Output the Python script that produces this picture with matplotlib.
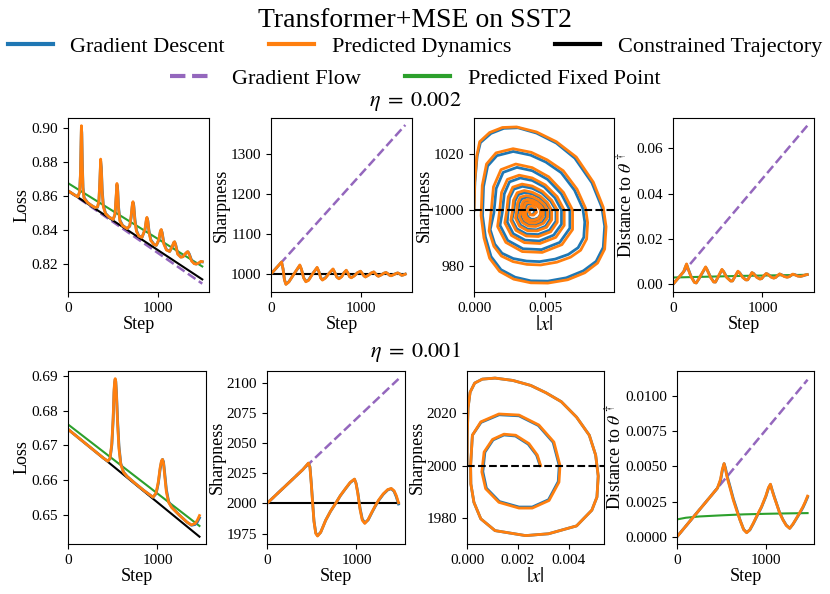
import numpy as np
import matplotlib
matplotlib.use('Agg')
import matplotlib.pyplot as plt
from matplotlib.lines import Line2D
from matplotlib.ticker import MultipleLocator

plt.rcParams['font.family'] = ['Liberation Serif', 'DejaVu Serif']
plt.rcParams['mathtext.fontset'] = 'stix'

# ---------------- eta = 0.002 ----------------
steps_loss1 = [0, 60, 110, 130, 140, 146, 150, 154, 160, 168, 180, 220, 260, 300, 330, 345, 355, 365, 373, 382,
               395, 420, 460, 505, 525, 538, 547, 555, 565, 580, 610, 660, 690, 705, 718, 726, 735, 748, 765, 790,
               826, 860, 875, 882, 892, 905, 925, 960, 987, 1015, 1032, 1042, 1052, 1070, 1100, 1136, 1165, 1182, 1191, 1203,
               1225, 1260, 1284, 1312, 1332, 1340, 1355, 1380, 1410, 1433, 1465, 1485, 1500]
loss1_pred = [0.8630, 0.8610, 0.8594, 0.8625, 0.8740, 0.8920, 0.9012, 0.8960, 0.8780, 0.8635,
              0.8585, 0.8560, 0.8545, 0.8532, 0.8535, 0.8570, 0.8680, 0.8816, 0.8750, 0.8620,
              0.8535, 0.8495, 0.8475, 0.8462, 0.8495, 0.8600, 0.8673, 0.8630, 0.8520, 0.8452,
              0.8425, 0.8408, 0.8425, 0.8480, 0.8548, 0.8566, 0.8535, 0.8450, 0.8392, 0.8365,
              0.8356, 0.8405, 0.8462, 0.8474, 0.8450, 0.8385, 0.8338, 0.8315, 0.8310, 0.8345,
              0.8395, 0.8403, 0.8380, 0.8318, 0.8282, 0.8274, 0.8305, 0.8328, 0.8331, 0.8310,
              0.8258, 0.8240, 0.8243, 0.8262, 0.8272, 0.8272, 0.8255, 0.8218, 0.8202, 0.8200,
              0.8208, 0.8216, 0.8214]
loss1_gd = [0.8630, 0.8610, 0.8594, 0.8622, 0.8730, 0.8900, 0.9000, 0.8972, 0.8805, 0.8650,
            0.8590, 0.8560, 0.8545, 0.8532, 0.8533, 0.8565, 0.8665, 0.8805, 0.8765, 0.8640,
            0.8545, 0.8497, 0.8475, 0.8462, 0.8490, 0.8590, 0.8665, 0.8640, 0.8535, 0.8458,
            0.8427, 0.8408, 0.8422, 0.8472, 0.8540, 0.8562, 0.8545, 0.8462, 0.8398, 0.8366,
            0.8356, 0.8400, 0.8455, 0.8470, 0.8455, 0.8395, 0.8343, 0.8316, 0.8310, 0.8340,
            0.8390, 0.8400, 0.8385, 0.8325, 0.8285, 0.8274, 0.8302, 0.8325, 0.8330, 0.8314,
            0.8263, 0.8242, 0.8243, 0.8260, 0.8270, 0.8272, 0.8259, 0.8223, 0.8204, 0.8200,
            0.8206, 0.8214, 0.8213]
loss1_constr = ([0, 1500], [0.8630, 0.8110])
loss1_flow = ([0, 1500], [0.8630, 0.8085])
loss1_fixed = ([0, 1500], [0.8675, 0.8186])

steps_sharp1 = [0, 60, 118, 135, 150, 167, 200, 260, 322, 340, 365, 389, 420, 470, 515, 535, 555, 574, 610, 650,
                693, 712, 735, 759, 790, 815, 841, 860, 878, 896, 930, 965, 1000, 1020, 1038, 1055, 1090, 1120, 1148, 1168,
                1185, 1200, 1235, 1262, 1285, 1305, 1322, 1340, 1370, 1395, 1415, 1435, 1460, 1480, 1500]
sharp1_pred = [1000, 1015, 1030, 1012, 985, 973.8, 980, 1001, 1022.5, 1012,
               990, 980.3, 984, 1002, 1016.5, 1006, 990, 984.5, 990, 1002,
               1012.5, 1004, 992, 987.8, 993, 1003, 1009.3, 1002, 993, 990.3,
               995, 1003, 1007, 1001, 995, 992.3, 997, 1002.5, 1005.2, 1000.5,
               996, 994, 998, 1002, 1003.8, 1000.5, 997, 995.2, 998, 1001,
               1002.7, 1000.5, 996.3, 997.5, 999.5]
sharp1_gd = [1000, 1015, 1029.5, 1012.5, 986, 974.5, 980.5, 1001, 1021, 1011.5,
             990.5, 981.5, 985, 1002, 1015.3, 1005.5, 990.5, 985.5, 991, 1002,
             1011.5, 1003.5, 992.5, 988.7, 993.5, 1003, 1008.5, 1001.5, 993.5, 991,
             995.5, 1002.5, 1006.3, 1000.8, 995.5, 992.8, 997.3, 1002.2, 1004.6, 1000.3,
             996.3, 994.5, 998.2, 1001.8, 1003.4, 1000.4, 997.2, 995.7, 998.3, 1000.9,
             1002.4, 1000.4, 996.6, 997.7, 999.5]
sharp1_constr = ([0, 1500], [1000, 1000])
sharp1_flow = ([0, 1500], [1000, 1373])

# phase portrait (|x|, sharpness)
phase1_pred = [
    (0.0, 1000), (0.00005, 1010), (0.0002, 1019.5), (0.0004, 1024.5), (0.0011, 1027.8), (0.0020, 1029.6),
    (0.0030, 1029.8), (0.0044, 1028), (0.0058, 1024.5), (0.0072, 1019), (0.0084, 1010), (0.0091, 1001),
    (0.0093, 994), (0.0092, 986), (0.0087, 981), (0.0078, 977.5), (0.0066, 975), (0.0052, 973.8),
    (0.0040, 973.9), (0.0028, 975.2), (0.0018, 978), (0.0011, 982.7), (0.0007, 990), (0.0005, 998),
    (0.00058, 1008.8), (0.00088, 1016.5), (0.00155, 1020.5), (0.00275, 1022), (0.00403, 1020.7), (0.00515, 1018),
    (0.00628, 1014.1), (0.00725, 1007.5), (0.00785, 1000.7), (0.0080, 995.5), (0.00793, 989.6), (0.00751, 985.6),
    (0.0068, 983.1), (0.00583, 981.3), (0.0047, 980.3), (0.00373, 980.5), (0.00275, 981.5), (0.00193, 983.5),
    (0.0014, 987), (0.00106, 992.5),
    (0.0012, 999), (0.00137, 1008.3), (0.0019, 1014.5), (0.00294, 1016.5), (0.0041, 1015.2), (0.00526, 1011.9),
    (0.0063, 1006.3), (0.00694, 1000), (0.00694, 993), (0.00619, 987.6), (0.0048, 984.8), (0.0034, 985.1),
    (0.00224, 988.4), (0.00166, 994.1),
    (0.0018, 999.5), (0.00194, 1006.3), (0.00235, 1011), (0.00318, 1012.5), (0.0041, 1011.5), (0.00502, 1009),
    (0.00585, 1004.8), (0.00635, 1000), (0.00635, 994.5), (0.00576, 990.2), (0.00465, 988), (0.00355, 988.3),
    (0.00263, 990.9), (0.00217, 995.4),
    (0.0023, 999.5), (0.00241, 1004.65), (0.00273, 1008.2), (0.00338, 1009.3), (0.0041, 1008.6), (0.00482, 1006.7),
    (0.00547, 1003.5), (0.00586, 1000), (0.00586, 995.6), (0.0054, 992.2), (0.00453, 990.5), (0.00367, 990.7),
    (0.00295, 992.7), (0.00259, 996.3),
    (0.0027, 999.5), (0.00278, 1003.5), (0.00304, 1006.2), (0.00354, 1007), (0.0041, 1006.4), (0.00466, 1005),
    (0.00516, 1002.7), (0.00547, 1000), (0.00547, 996.5), (0.00511, 993.8), (0.00444, 992.5), (0.00376, 992.6),
    (0.0032, 994.2), (0.00292, 997.1),
    (0.0030, 999.5), (0.00307, 1002.6), (0.00326, 1004.6), (0.00366, 1005.2), (0.0041, 1004.8), (0.00454, 1003.7),
    (0.00494, 1002), (0.00518, 1000), (0.00518, 997.3), (0.00489, 995.2), (0.00436, 994.1), (0.00384, 994.2),
    (0.0034, 995.5), (0.00318, 997.7),
    (0.0033, 999.5), (0.00335, 1001.9), (0.00349, 1003.3), (0.00378, 1003.8), (0.0041, 1003.5), (0.00442, 1002.7),
    (0.00471, 1001.4), (0.00488, 1000), (0.00488, 997.8), (0.00468, 996.2), (0.00429, 995.3), (0.00391, 995.4),
    (0.00359, 996.4), (0.00343, 998.2),
    (0.0035, 999.5), (0.00354, 1001.4), (0.00364, 1002.4), (0.00386, 1002.7), (0.0041, 1002.5), (0.00434, 1001.9),
    (0.00456, 1001), (0.00469, 1000), (0.00469, 998.3), (0.00453, 997), (0.00424, 996.4), (0.00396, 996.4),
    (0.00372, 997.2), (0.0036, 998.6),
    (0.0037, 999.5), (0.00385, 1001.2), (0.0041, 1001.5), (0.00432, 1000.6), (0.0044, 999.2), (0.0042, 998.2),
    (0.00395, 998.3), (0.0039, 999.2)]
phase1_gd = [
    (0.0, 1000), (0.00006, 1010), (0.00022, 1019.3), (0.00045, 1024.2), (0.0012, 1027.5), (0.0021, 1029.3),
    (0.0031, 1029.5), (0.0044, 1027.6), (0.0058, 1024), (0.0071, 1018.6), (0.0083, 1009.8), (0.0090, 1001),
    (0.0092, 994.2), (0.0091, 986.6), (0.0086, 981.6), (0.0077, 978.2), (0.0065, 975.7), (0.0052, 974.5),
    (0.0040, 974.6), (0.0029, 975.9), (0.0019, 978.6), (0.0012, 983.3), (0.0008, 990.4), (0.0006, 998),
    (0.00067, 1008.4), (0.00096, 1015.8), (0.00161, 1019.5), (0.00276, 1021), (0.00398, 1019.7), (0.00506, 1017.2),
    (0.00614, 1013.4), (0.00708, 1007.1), (0.00766, 1000.6), (0.0078, 995.7), (0.00773, 990.2), (0.00733, 986.5),
    (0.00665, 984.1), (0.00571, 982.4), (0.00463, 981.5), (0.0037, 981.7), (0.00276, 982.6), (0.00197, 984.5),
    (0.00146, 987.8), (0.00114, 993),
    (0.0014, 999), (0.00156, 1007.7), (0.00205, 1013.5), (0.00302, 1015.3), (0.0041, 1014.1), (0.00518, 1011),
    (0.00615, 1005.8), (0.00675, 1000), (0.00675, 993.5), (0.00604, 988.4), (0.00475, 985.8), (0.00345, 986.1),
    (0.00237, 989.1), (0.00183, 994.5),
    (0.0020, 999.5), (0.00213, 1005.8), (0.0025, 1010.1), (0.00326, 1011.5), (0.0041, 1010.6), (0.00494, 1008.3),
    (0.0057, 1004.4), (0.00616, 1000), (0.00616, 994.9), (0.00561, 991), (0.0046, 988.9), (0.0036, 989.2),
    (0.00276, 991.5), (0.00234, 995.7),
    (0.0024, 999.5), (0.0025, 1004.25), (0.00281, 1007.5), (0.00342, 1008.5), (0.0041, 1007.8), (0.00478, 1006.1),
    (0.00539, 1003.2), (0.00577, 1000), (0.00577, 996), (0.00532, 992.8), (0.00451, 991.2), (0.00369, 991.4),
    (0.00301, 993.3), (0.00267, 996.6),
    (0.0028, 999.5), (0.00288, 1003.2), (0.00311, 1005.5), (0.00358, 1006.3), (0.0041, 1005.8), (0.00462, 1004.5),
    (0.00509, 1002.4), (0.00537, 1000), (0.00537, 996.8), (0.00504, 994.2), (0.00441, 992.9), (0.00379, 993.1),
    (0.00327, 994.6), (0.00301, 997.3),
    (0.0031, 999.5), (0.00316, 1002.3), (0.00334, 1004), (0.0037, 1004.6), (0.0041, 1004.2), (0.0045, 1003.3),
    (0.00486, 1001.7), (0.00508, 1000), (0.00508, 997.5), (0.00482, 995.6), (0.00434, 994.6), (0.00386, 994.7),
    (0.00346, 995.9), (0.00326, 997.9),
    (0.0034, 999.5), (0.00345, 1001.7), (0.00358, 1003), (0.00385, 1003.4), (0.00415, 1003.1), (0.00445, 1002.4),
    (0.00472, 1001.3), (0.00489, 1000), (0.00489, 998.1), (0.00469, 996.6), (0.00433, 995.8), (0.00397, 995.9),
    (0.00367, 996.8), (0.00352, 998.4),
    (0.0036, 999.5), (0.00363, 1001.2), (0.00373, 1002.1), (0.00393, 1002.4), (0.00415, 1002.2), (0.00437, 1001.7),
    (0.00457, 1000.9), (0.00469, 1000), (0.00469, 998.5), (0.00455, 997.3), (0.00428, 996.7), (0.00402, 996.7),
    (0.0038, 997.5), (0.00369, 998.7),
    (0.0038, 999.4), (0.0040, 1000.6), (0.0042, 1000.3), (0.0043, 999.1), (0.0041, 998.4)]

steps_dist1 = [0, 60, 120, 140, 152, 165, 200, 240, 260, 290, 340, 365, 380, 420, 455, 475, 510, 547, 565, 600,
               645, 665, 700, 726, 745, 780, 815, 835, 865, 882, 900, 935, 970, 990, 1020, 1042, 1060, 1095, 1125, 1145,
               1175, 1191, 1210, 1245, 1275, 1300, 1325, 1340, 1360, 1395, 1425, 1455, 1480, 1500]
dist1_pred = [0.0, 0.0028, 0.0056, 0.0078, 0.0090, 0.0072, 0.0035, 0.0008, 0.0006, 0.0025,
              0.0060, 0.0077, 0.0065, 0.0030, 0.0010, 0.0010, 0.0038, 0.0066, 0.0056, 0.0030,
              0.0014, 0.0015, 0.0040, 0.0058, 0.0050, 0.0030, 0.0019, 0.0020, 0.0040, 0.0052,
              0.0047, 0.0031, 0.0023, 0.0025, 0.0040, 0.0048, 0.0044, 0.0032, 0.0027, 0.0030,
              0.0041, 0.0046, 0.0042, 0.0034, 0.0031, 0.0034, 0.0042, 0.0045, 0.0042, 0.0036,
              0.0035, 0.0038, 0.0042, 0.0043]
dist1_gd = [0.0, 0.0028, 0.0056, 0.0077, 0.0088, 0.0074, 0.0037, 0.0009, 0.0006, 0.0024,
            0.0058, 0.0075, 0.0066, 0.0032, 0.0011, 0.0010, 0.0036, 0.0064, 0.0057, 0.0032,
            0.0015, 0.0015, 0.0039, 0.0056, 0.0051, 0.0031, 0.0020, 0.0020, 0.0039, 0.0051,
            0.0048, 0.0032, 0.0024, 0.0025, 0.0039, 0.0047, 0.0045, 0.0033, 0.0028, 0.0030,
            0.0040, 0.0045, 0.0043, 0.0035, 0.0032, 0.0034, 0.0041, 0.0044, 0.0043, 0.0037,
            0.0035, 0.0038, 0.0041, 0.0043]
dist1_flow = ([0, 1500], [0.0, 0.0700])
dist1_fixed = ([0, 750, 1500], [0.0030, 0.0037, 0.0042])

# ---------------- eta = 0.001 ----------------
steps_loss2 = [0, 200, 400, 445, 470, 490, 505, 515, 522, 528, 534, 542, 555, 570, 590, 620, 660, 750, 850, 950,
               985, 1010, 1030, 1045, 1057, 1068, 1082, 1100, 1125, 1160, 1250, 1330, 1380, 1420, 1445, 1470]
loss2_pred = [0.6746, 0.6704, 0.6662, 0.6654, 0.6662, 0.6705, 0.6780, 0.6860, 0.6885, 0.6892,
              0.6883, 0.6845, 0.6760, 0.6690, 0.6645, 0.6622, 0.6610, 0.6590, 0.6569, 0.6550,
              0.6562, 0.6595, 0.6635, 0.6655, 0.6659, 0.6648, 0.6610, 0.6565, 0.6535, 0.6520,
              0.6497, 0.6478, 0.6470, 0.6474, 0.6483, 0.6497]
loss2_gd = [0.6746, 0.6704, 0.6662, 0.6654, 0.6661, 0.6700, 0.6772, 0.6852, 0.6880, 0.6890,
            0.6885, 0.6852, 0.6770, 0.6698, 0.6648, 0.6623, 0.6610, 0.6590, 0.6569, 0.6550,
            0.6560, 0.6590, 0.6630, 0.6652, 0.6659, 0.6652, 0.6618, 0.6572, 0.6538, 0.6521,
            0.6497, 0.6478, 0.6469, 0.6471, 0.6478, 0.6490]
loss2_constr = ([0, 1470], [0.6746, 0.6436])
loss2_fixed = ([0, 1470], [0.6760, 0.6467])

steps_sharp2 = [0, 200, 400, 463, 480, 495, 510, 525, 545, 565, 600, 656, 710, 767, 820, 878, 930, 978, 995, 1015,
                1040, 1065, 1093, 1130, 1174, 1210, 1248, 1300, 1350, 1389, 1420, 1445, 1470]
sharp2_pred = [2000, 2014, 2028, 2033.5, 2030, 2016, 2000, 1985, 1975, 1972.9,
               1976, 1986, 1993.5, 2000, 2006.5, 2012.4, 2017.5, 2020.2, 2016.5, 2008.3,
               1995, 1986, 1983.4, 1986.5, 1993, 1998, 2002.8, 2008, 2011.5, 2012.4,
               2010.5, 2006.5, 2000.5]
sharp2_gd = [2000, 2014, 2028, 2033.3, 2030.5, 2017, 2001, 1985.5, 1975.5, 1973.2,
             1976, 1986, 1993.4, 2000, 2006.4, 2012.2, 2017.2, 2020, 2016.8, 2009,
             1996, 1987, 1983.8, 1986.2, 1992.6, 1997.6, 2002.4, 2007.6, 2011.2, 2012.2,
             2010, 2005.5, 1999.5]
sharp2_constr = ([0, 1470], [2000, 2000])
sharp2_flow = ([0, 1470], [2000, 2103.3])

phase2_pred = [
    (0.0, 2000), (0.00001, 2012), (0.00004, 2022), (0.00012, 2028), (0.0003, 2031.5), (0.0006, 2033),
    (0.0011, 2033.4), (0.0018, 2032.5), (0.0025, 2030.6), (0.0031, 2027.8), (0.0037, 2024.4), (0.0043, 2018.5),
    (0.0048, 2011.6), (0.00505, 2004), (0.00515, 1996), (0.0051, 1988), (0.0049, 1983), (0.0043, 1977),
    (0.0032, 1974), (0.0023, 1973.3), (0.0011, 1975.2), (0.00054, 1979.7), (0.00027, 1986), (0.00015, 1993),
    (0.00014, 2000),
    (0.00021, 2011.6), (0.00054, 2016.7), (0.00125, 2019.7), (0.00204, 2019.3), (0.00282, 2015.5), (0.00341, 2009),
    (0.00365, 2000), (0.00361, 1993.7), (0.00322, 1986.7), (0.00256, 1983.8), (0.00204, 1983.8), (0.00125, 1986),
    (0.00073, 1991.2), (0.00058, 1997.6), (0.00067, 2005.2), (0.001, 2010), (0.00145, 2012), (0.00191, 2011.6),
    (0.00243, 2008.4), (0.00276, 2004), (0.00289, 2000)]
phase2_gd = [
    (0.0, 2000), (0.00001, 2012), (0.00004, 2022), (0.00012, 2028), (0.0003, 2031.5), (0.0006, 2033),
    (0.0011, 2033.4), (0.0018, 2032.5), (0.0025, 2030.6), (0.0031, 2027.8), (0.0037, 2024.4), (0.0043, 2018.5),
    (0.0048, 2011.6), (0.00505, 2004), (0.00515, 1996), (0.0051, 1988), (0.0049, 1983), (0.0043, 1977),
    (0.0032, 1974), (0.0023, 1973.3), (0.0011, 1975.2), (0.00054, 1979.7), (0.00027, 1986), (0.00015, 1993),
    (0.00014, 2000),
    (0.00021, 2011.6), (0.00055, 2016.5), (0.00126, 2019.4), (0.00204, 2019.0), (0.0028, 2015.3), (0.00338, 2008.9),
    (0.00362, 2000), (0.00358, 1993.9), (0.0032, 1987), (0.00256, 1984.2), (0.00204, 1984.2), (0.00127, 1986.3),
    (0.00076, 1991.4), (0.00062, 1997.7), (0.0007, 2005.1), (0.00102, 2009.8), (0.00145, 2011.7), (0.0019, 2011.3),
    (0.0024, 2008.2), (0.00273, 2004), (0.00287, 2000)]

steps_dist2 = [0, 200, 400, 455, 490, 510, 530, 545, 565, 600, 634, 670, 709, 750, 784, 820, 858, 900, 951, 1000,
               1030, 1052, 1070, 1095, 1119, 1155, 1194, 1230, 1269, 1305, 1343, 1380, 1418, 1445, 1470]
dist2_pred = [0.0, 0.00152, 0.00304, 0.00346, 0.0041, 0.0048, 0.00521, 0.0048, 0.0042, 0.0034,
              0.0026, 0.0019, 0.00118, 0.0005, 0.00028, 0.0005, 0.00095, 0.0015, 0.00213, 0.0029,
              0.0035, 0.00374, 0.0033, 0.0028, 0.00237, 0.0017, 0.00118, 0.0008, 0.00059, 0.0009,
              0.0013, 0.0017, 0.00213, 0.0025, 0.00289]
dist2_gd = [0.0, 0.00152, 0.00304, 0.00346, 0.0040, 0.0047, 0.0052, 0.0049, 0.0043, 0.0035,
            0.0027, 0.0020, 0.0012, 0.00052, 0.0003, 0.00048, 0.00092, 0.00146, 0.0021, 0.00286,
            0.00346, 0.00372, 0.00335, 0.00285, 0.0024, 0.00172, 0.0012, 0.00082, 0.0006, 0.00088,
            0.00127, 0.00166, 0.00208, 0.00245, 0.00282]
dist2_flow = ([0, 1470], [0.0, 0.01118])
dist2_fixed = ([0, 100, 250, 500, 750, 1000, 1250, 1470],
               [0.00123, 0.00135, 0.00144, 0.00152, 0.00159, 0.00163, 0.00166, 0.00168])

C_GD = '#1f77b4'
C_PRED = '#ff7f0e'
C_FLOW = '#9467bd'
C_FIX = '#2ca02c'
LW = 2.0

fig = plt.figure(figsize=(8.3, 5.94), dpi=100)

fig.text(0.5, 0.966, 'Transformer+MSE on SST2', ha='center', va='center', fontsize=20)
h1 = [Line2D([], [], color=C_GD, lw=3), Line2D([], [], color=C_PRED, lw=3), Line2D([], [], color='k', lw=3)]
fig.legend(h1, ['Gradient Descent', 'Predicted Dynamics', 'Constrained Trajectory'], loc='center',
           bbox_to_anchor=(0.5, 0.922), ncol=3, frameon=False, fontsize=16, borderaxespad=0, borderpad=0)
h2 = [Line2D([], [], color=C_FLOW, lw=3, ls='--'), Line2D([], [], color=C_FIX, lw=3)]
fig.legend(h2, ['Gradient Flow', 'Predicted Fixed Point'], loc='center',
           bbox_to_anchor=(0.5, 0.868), ncol=2, frameon=False, fontsize=16, borderaxespad=0, borderpad=0)
fig.text(0.5, 0.829, r'$\eta\;=\;0.002$', ha='center', va='center', fontsize=16)
fig.text(0.5, 0.407, r'$\eta\;=\;0.001$', ha='center', va='center', fontsize=16)

row1 = [[0.0819, 0.5084, 0.1699, 0.2929], [0.3265, 0.5084, 0.1699, 0.2929],
        [0.5711, 0.5084, 0.1687, 0.2929], [0.8108, 0.5084, 0.1699, 0.2929]]
row2 = [[0.0819, 0.0842, 0.1663, 0.2912], [0.3217, 0.0842, 0.1663, 0.2912],
        [0.5627, 0.0842, 0.1651, 0.2912], [0.8157, 0.0842, 0.1651, 0.2912]]


def style(ax, xlabel, ylabel, xstep, ystep, xsize=13):
    ax.set_xlabel(xlabel, fontsize=xsize, labelpad=1)
    ax.set_ylabel(ylabel, fontsize=13, labelpad=1)
    ax.xaxis.set_major_locator(MultipleLocator(xstep))
    ax.yaxis.set_major_locator(MultipleLocator(ystep))
    ax.tick_params(labelsize=11)


def time_panel(ax, steps, gd, pred, flow=None, constr=None, fixed=None):
    if flow is not None:
        ax.plot(*flow, color=C_FLOW, lw=1.8, ls='--')
    if constr is not None:
        ax.plot(*constr, color='k', lw=1.5)
    if fixed is not None:
        ax.plot(*fixed, color=C_FIX, lw=1.5)
    ax.plot(steps, gd, color=C_GD, lw=LW)
    ax.plot(steps, pred, color=C_PRED, lw=LW)


def phase_panel(ax, gd, pred, center):
    gd = np.array(gd)
    pred = np.array(pred)
    ax.plot(gd[:, 0], gd[:, 1], color=C_GD, lw=LW)
    ax.plot(pred[:, 0], pred[:, 1], color=C_PRED, lw=LW)
    ax.axhline(center, color='k', lw=1.5, ls='--')


# row 1
ax = fig.add_axes(row1[0])
time_panel(ax, steps_loss1, loss1_gd, loss1_pred, loss1_flow, loss1_constr, loss1_fixed)
ax.set_xlim(0, 1575); ax.set_ylim(0.8036, 0.9057)
style(ax, 'Step', 'Loss', 1000, 0.02)

ax = fig.add_axes(row1[1])
time_panel(ax, steps_sharp1, sharp1_gd, sharp1_pred, sharp1_flow, sharp1_constr)
ax.set_xlim(0, 1575); ax.set_ylim(954.7, 1390.5)
style(ax, 'Step', 'Sharpness', 1000, 100)

ax = fig.add_axes(row1[2])
phase_panel(ax, phase1_gd, phase1_pred, 1000)
ax.set_xlim(0, 0.00986); ax.set_ylim(970.6, 1033)
style(ax, r'$|x|$', 'Sharpness', 0.005, 20, xsize=15)

ax = fig.add_axes(row1[3])
time_panel(ax, steps_dist1, dist1_gd, dist1_pred, dist1_flow, None, dist1_fixed)
ax.set_xlim(0, 1575); ax.set_ylim(-0.0034, 0.0734)
style(ax, 'Step', r'Distance to $\theta^\dagger$', 1000, 0.02)

# row 2
ax = fig.add_axes(row2[0])
time_panel(ax, steps_loss2, loss2_gd, loss2_pred, None, loss2_constr, loss2_fixed)
ax.set_xlim(0, 1543); ax.set_ylim(0.6415, 0.6914)
style(ax, 'Step', 'Loss', 1000, 0.01)

ax = fig.add_axes(row2[1])
time_panel(ax, steps_sharp2, sharp2_gd, sharp2_pred, sharp2_flow, sharp2_constr)
ax.set_xlim(0, 1543); ax.set_ylim(1966.3, 2109.9)
style(ax, 'Step', 'Sharpness', 1000, 25)

ax = fig.add_axes(row2[2])
phase_panel(ax, phase2_gd, phase2_pred, 2000)
ax.set_xlim(0, 0.00538); ax.set_ylim(1970.1, 2036.1)
style(ax, r'$|x|$', 'Sharpness', 0.002, 20, xsize=15)

ax = fig.add_axes(row2[3])
time_panel(ax, steps_dist2, dist2_gd, dist2_pred, dist2_flow, None, dist2_fixed)
ax.set_xlim(0, 1543); ax.set_ylim(-0.00052, 0.0118)
style(ax, 'Step', r'Distance to $\theta^\dagger$', 1000, 0.0025)

fig.savefig('out.png', dpi=100)
